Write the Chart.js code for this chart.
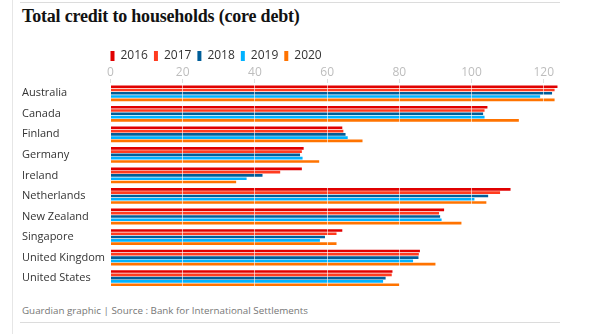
<!DOCTYPE html>
<html>
<head>
<meta charset="utf-8">
<script src="https://cdn.jsdelivr.net/npm/chart.js@4"></script>
<style>
  body { margin: 0; background: #fff; }
  #wrap { position: relative; width: 602px; height: 334px; overflow: hidden; }
  #vline { position: absolute; left: 12px; top: 0; width: 1px; height: 334px; background: #e6e6e6; }
  #topline { position: absolute; left: 20px; top: 2px; width: 540px; height: 1px; background: #dcdcdc; }
  #botline { position: absolute; left: 20px; top: 322px; width: 540px; height: 1px; background: #dcdcdc; }
  #title { position: absolute; left: 22px; top: 6px; font: bold 18px "Liberation Serif", serif; color: #121212; letter-spacing: -0.2px; }
  #foot { position: absolute; left: 22px; top: 304px; font: 9.8px "Open Sans", sans-serif; color: #767676; }
  #c { position: absolute; left: 0; top: 0; }
</style>
</head>
<body>
<div id="wrap">
  <div id="vline"></div>
  <div id="topline"></div>
  <div id="botline"></div>
  <div id="title">Total credit to households (core debt)</div>
  <canvas id="c" width="602" height="298"></canvas>
  <div id="foot">Guardian graphic | Source : Bank for International Settlements</div>
</div>
<script>
'use strict';

// 国ごとのデータ
const countries = ['Australia', 'Canada', 'Finland', 'Germany', 'Ireland', 'Netherlands', 'New Zealand', 'Singapore', 'United Kingdom', 'United States'];
const years = ['2016', '2017', '2018', '2019', '2020'];
const colors = ['#e00000', '#ff3b1f', '#005e99', '#00b2ff', '#ff7300'];

const v2016 = [123.8, 104.4, 64.2, 53.5, 53.0, 110.8, 92.4, 64.2, 85.7, 78.1];
const v2017 = [123.0, 103.6, 64.5, 53.0, 47.0, 107.9, 91.0, 62.6, 85.4, 77.9];
const v2018 = [122.3, 103.2, 65.1, 52.5, 42.1, 104.6, 91.3, 59.4, 85.3, 76.2];
const v2019 = [119.0, 103.6, 65.7, 53.2, 37.7, 100.8, 91.7, 58.0, 83.8, 75.5];
const v2020 = [123.0, 113.1, 69.8, 57.8, 34.8, 104.1, 97.2, 62.6, 90.0, 80.0];
const values = [v2016, v2017, v2018, v2019, v2020];

const xTicks = [0, 20, 40, 60, 80, 100, 120];

const datasets = years.map(function (y, i) {
	return {
		label: y,
		data: values[i],
		backgroundColor: colors[i],
		borderWidth: 0,
		categoryPercentage: 0.8,
		barPercentage: 0.8,
	};
});

// 凡例を少し左へ
const shiftLegend = {
	id: 'shiftLegend',
	afterLayout(chart) {
		chart.legend.left -= 6;
		chart.legend.right -= 6;
	}
};

const config = {
	type: 'bar',
	data: { labels: countries, datasets: datasets },
	options: {
		indexAxis: 'y',
		responsive: false,
		animation: false,
		layout: { padding: { left: 22, top: 44, right: 42, bottom: 4 } },
		plugins: {
			legend: {
				position: 'top',
				align: 'start',
				fullSize: false,
				maxHeight: 23,
				labels: {
					boxWidth: 4,
					boxHeight: 10,
					padding: 6,
					color: '#333',
					font: { family: 'Open Sans', size: 12 },
				},
			},
			tooltip: { enabled: false },
		},
		scales: {
			x: {
				position: 'top',
				min: 0,
				max: 124.5,
				afterBuildTicks: function (axis) {
					axis.ticks = xTicks.map(function (v) { return { value: v }; });
				},
				ticks: {
					color: '#bdbdbd',
					padding: 0,
					font: { family: 'Open Sans', size: 12, lineHeight: 1 },
				},
				grid: {
					z: 1,
					color: 'rgba(255,255,255,0.6)',
					tickColor: '#dddddd',
					tickLength: 4,
					lineWidth: 1,
				},
				border: { display: false },
			},
			y: {
				afterFit: function (scale) { scale.width = 88.5; },
				ticks: {
					crossAlign: 'far',
					color: '#333',
					font: { family: 'Open Sans', size: 11 },
				},
				grid: { display: false },
				border: { display: false },
			},
		},
	},
	plugins: [shiftLegend],
};

const chart = new Chart(document.getElementById('c'), config);
</script>
</body>
</html>
